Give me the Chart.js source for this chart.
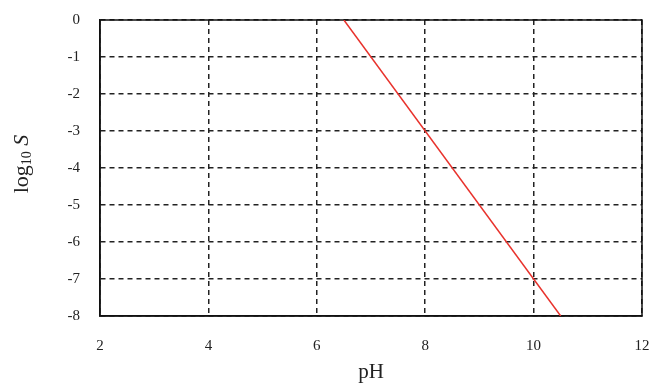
<!DOCTYPE html>
<html>
<head>
<meta charset="utf-8">
<script src="https://cdn.jsdelivr.net/npm/chart.js@4/dist/chart.umd.min.js"></script>
<style>
  html, body { margin: 0; padding: 0; background: #fff; }
  #wrap { width: 653px; height: 385px; }
</style>
</head>
<body>
<div id="wrap"><canvas id="chart" width="653" height="385"></canvas></div>
<script>
// pH vs log10 S
const phValues = [6.5, 10.5];
const logS = [0, -8];
const xTicks = [2, 4, 6, 8, 10, 12];
const yTicks = [0, -1, -2, -3, -4, -5, -6, -7, -8];

const serif = "'Liberation Serif', 'DejaVu Serif', serif";

// solid frame round the plot + y title (log10 S, italic S)
const frame = {
	id: "frame",
	beforeDatasetsDraw(chart) {
		const { ctx, chartArea: a } = chart;
		ctx.save();
		ctx.strokeStyle = "#111";
		ctx.lineWidth = 1.5;
		ctx.setLineDash([]);
		ctx.strokeRect(a.left, a.top, a.right - a.left, a.bottom - a.top);
		ctx.restore();
	},
	afterDraw(chart) {
		const { ctx, chartArea: a } = chart;
		ctx.save();
		ctx.translate(22, (a.top + a.bottom) / 2 - 4);
		ctx.rotate(-Math.PI / 2);
		ctx.fillStyle = "#222";
		ctx.textBaseline = "middle";
		const parts = [
			{ t: "log", f: "22px " + serif, dy: 0 },
			{ t: "10", f: "14px " + serif, dy: 5 },
			{ t: " ", f: "22px " + serif, dy: 0 },
			{ t: "S", f: "italic 22px " + serif, dy: 0 }
		];
		let w = 0;
		parts.forEach(p => { ctx.font = p.f; w += ctx.measureText(p.t).width; });
		let x = -w / 2;
		parts.forEach(p => {
			ctx.font = p.f;
			ctx.fillText(p.t, x, p.dy);
			x += ctx.measureText(p.t).width;
		});
		ctx.restore();
	}
};

// stop the tick labels from pushing the plot area in
function noOverflow(s) {
	s.paddingTop = 0;
	s.paddingBottom = 0;
	s.paddingLeft = 0;
	s.paddingRight = 0;
}

new Chart(document.getElementById("chart").getContext("2d"), {
	type: "scatter",
	data: {
		datasets: [{
			data: phValues.map((x, i) => ({ x: x, y: logS[i] })),
			showLine: true,
			borderColor: "#e8322c",
			borderWidth: 1.5,
			pointRadius: 0,
			fill: false
		}]
	},
	options: {
		responsive: false,
		animation: false,
		layout: { padding: { top: 20, right: 11, left: 0, bottom: 0 } },
		plugins: { legend: { display: false }, tooltip: { enabled: false } },
		scales: {
			x: {
				type: "linear",
				min: 2,
				max: 12,
				afterBuildTicks: s => { s.ticks = xTicks.map(v => ({ value: v })); },
				afterFit: s => { s.height = 69; noOverflow(s); },
				grid: {
					color: "#222",
					lineWidth: 1.5,
					drawTicks: false
				},
				border: { display: true, color: "#111", width: 1.5, dash: [5, 4] },
				ticks: {
					padding: 21,
					color: "#222",
					font: { family: serif, size: 15 }
				},
				title: {
					display: true,
					text: "pH",
					color: "#222",
					font: { family: serif, size: 21 },
					padding: { top: 0, bottom: 0 }
				}
			},
			y: {
				type: "linear",
				min: -8,
				max: 0,
				afterBuildTicks: s => { s.ticks = yTicks.map(v => ({ value: v })); },
				afterFit: s => { s.width = 100; noOverflow(s); },
				grid: {
					color: "#222",
					lineWidth: 1.5,
					drawTicks: false
				},
				border: { display: true, color: "#111", width: 1.5, dash: [5, 4] },
				ticks: {
					padding: 20,
					color: "#222",
					font: { family: serif, size: 15 },
					callback: v => String(v)
				}
			}
		}
	},
	plugins: [frame]
});
</script>
</body>
</html>
